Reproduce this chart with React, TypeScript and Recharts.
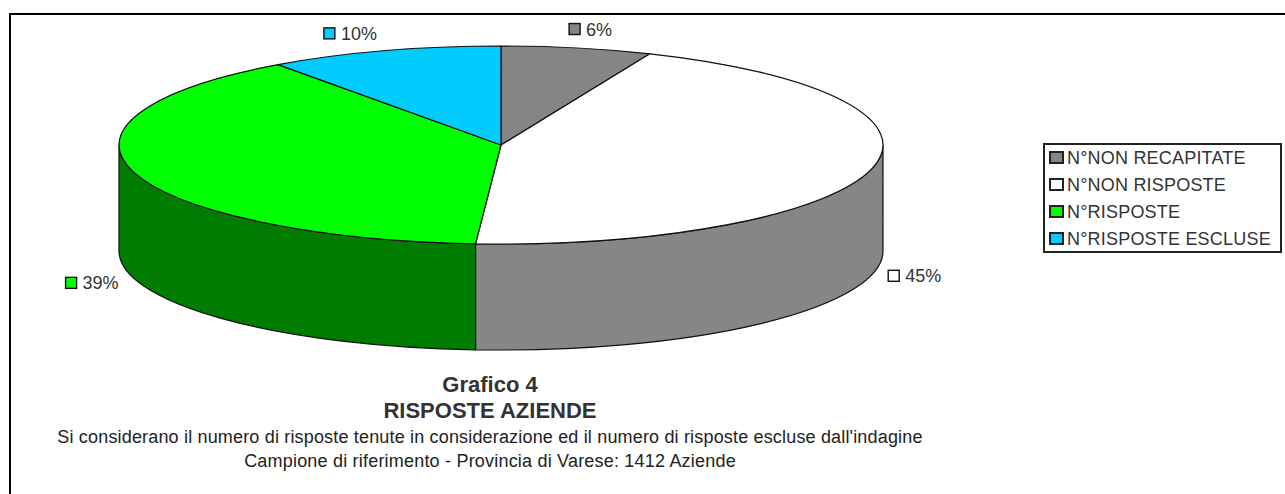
import React from "react";
import { PieChart, Pie, Cell, Legend } from "recharts";

const categories = ["N°NON RECAPITATE", "N°NON RISPOSTE", "N°RISPOSTE", "N°RISPOSTE ESCLUSE"];
const counts = [90, 631, 551, 140];
const percentLabels = ["6%", "45%", "39%", "10%"];
const topColors = ["#858585", "#FFFFFF", "#00FF00", "#00CCFF"];
const wallColors = ["#404040", "#868686", "#007C00", "#006680"];
const titleLines = ["Grafico 4", "RISPOSTE AZIENDE"];
const noteLines = [
  "Si considerano il numero di risposte tenute in considerazione ed il numero di risposte escluse dall'indagine",
  "Campione di riferimento - Provincia di Varese: 1412 Aziende",
];

const rows = categories.map((name, i) => ({ name, value: counts[i], label: percentLabels[i] }));

const CX = 501;
const CY = 145;
const RX = 382;
const RY = 99;
const DEPTH = 106;
const FONT = "'Liberation Sans', Arial, sans-serif";

// Recharts angles: counter-clockwise from 3 o'clock, degrees.
const px = (a: number) => CX + RX * Math.cos((a * Math.PI) / 180);
const py = (a: number) => CY - RY * Math.sin((a * Math.PI) / 180);

function TopSlice(p: any) {
  const { startAngle, endAngle, fill } = p;
  const large = Math.abs(endAngle - startAngle) > 180 ? 1 : 0;
  const d = `M${CX},${CY} L${px(startAngle)},${py(startAngle)} A${RX},${RY} 0 ${large} 1 ${px(endAngle)},${py(endAngle)} Z`;
  return <path d={d} fill={fill} stroke="#111" strokeWidth={1.2} strokeLinejoin="round" />;
}

function WallSlice(p: any) {
  const { startAngle, endAngle, fill } = p;
  // visible front of the cylinder: below the horizontal axis, angles -180..0
  const s = Math.min(startAngle, 0);
  const e = Math.max(endAngle, -180);
  if (s <= e) return <g />;
  const d = `M${px(s)},${py(s)} A${RX},${RY} 0 0 1 ${px(e)},${py(e)} L${px(e)},${py(e) + DEPTH} A${RX},${RY} 0 0 0 ${px(s)},${py(s) + DEPTH} Z`;
  return <path d={d} fill={fill} stroke="#111" strokeWidth={1.2} strokeLinejoin="round" />;
}

const labelNudge = [
  [4, 0],
  [-8, -2],
  [-3, 0],
  [-25, 1],
];

function SliceLabel(p: any) {
  const { midAngle, index } = p;
  const c = Math.cos((midAngle * Math.PI) / 180);
  const s = Math.sin((midAngle * Math.PI) / 180);
  const x = CX + RX * c * 1.12 + labelNudge[index][0];
  const y = CY - RY * s * 1.19 + (s < 0 ? DEPTH : 0) + labelNudge[index][1];
  return (
    <g>
      <rect x={x - 21} y={y - 6} width={11} height={11} fill={topColors[index]} stroke="#111" strokeWidth={1.4} />
      <text x={x - 4} y={y + 6} fontSize={18} fontFamily={FONT} fill="#333">
        {percentLabels[index]}
      </text>
    </g>
  );
}

function LegendBox() {
  return (
    <div
      style={{
        position: "absolute",
        left: 1043,
        top: 143,
        width: 235,
        height: 106,
        border: "2px solid #222",
        boxSizing: "content-box",
        fontFamily: FONT,
        fontSize: 18,
        letterSpacing: 0.2,
        color: "#333",
        background: "#fff",
      }}
    >
      {categories.map((c, i) => (
        <div key={c} style={{ position: "absolute", left: 4, top: 1 + i * 27, height: 24, lineHeight: "24px", whiteSpace: "nowrap" }}>
          <span
            style={{
              display: "inline-block",
              width: 11,
              height: 9,
              marginRight: 3,
              background: topColors[i],
              border: "2px solid #222",
            }}
          />
          {c}
        </div>
      ))}
    </div>
  );
}

export default function App() {
  return (
    <div style={{ position: "absolute", left: 0, top: 0, width: 1285, height: 494, background: "#fff", overflow: "hidden" }}>
      <div
        style={{
          position: "absolute",
          left: 9,
          top: 13,
          width: 1276,
          height: 481,
          borderTop: "2px solid #000",
          borderLeft: "2px solid #000",
          boxSizing: "border-box",
        }}
      />
      <div style={{ position: "absolute", left: 0, top: 0 }}>
        <PieChart width={1285} height={494} margin={{ top: 0, right: 0, bottom: 0, left: 0 }}>
          <Pie
            data={rows}
            dataKey="value"
            cx={CX}
            cy={CY}
            outerRadius={RX}
            startAngle={90}
            endAngle={-270}
            isAnimationActive={false}
            shape={WallSlice}
            label={false}
            legendType="none"
          >
            {rows.map((r, i) => (
              <Cell key={r.name} fill={wallColors[i]} />
            ))}
          </Pie>
          <Pie
            data={rows}
            dataKey="value"
            cx={CX}
            cy={CY}
            outerRadius={RX}
            startAngle={90}
            endAngle={-270}
            isAnimationActive={false}
            shape={TopSlice}
            label={SliceLabel}
            labelLine={false}
          >
            {rows.map((r, i) => (
              <Cell key={r.name} fill={topColors[i]} />
            ))}
          </Pie>
          <Legend content={() => null} />
          <text x={490} y={392} textAnchor="middle" fontSize={22} fontWeight="bold" fontFamily={FONT} fill="#333">
            {titleLines[0]}
          </text>
          <text x={490} y={418} textAnchor="middle" fontSize={22} fontWeight="bold" fontFamily={FONT} fill="#333">
            {titleLines[1]}
          </text>
          <text x={490} y={443} textAnchor="middle" fontSize={18} letterSpacing={0.17} fontFamily={FONT} fill="#222">
            {noteLines[0]}
          </text>
          <text x={490} y={467} textAnchor="middle" fontSize={18} letterSpacing={0.2} fontFamily={FONT} fill="#222">
            {noteLines[1]}
          </text>
        </PieChart>
      </div>
      <LegendBox />
    </div>
  );
}
